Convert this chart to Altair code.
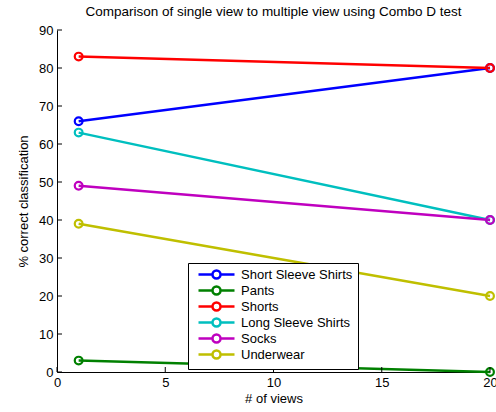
import altair as alt
import pandas as pd

series = ["Short Sleeve Shirts", "Pants", "Shorts", "Long Sleeve Shirts", "Socks", "Underwear"]
colors = ["#0000FF", "#008000", "#FF0000", "#00BFBF", "#BF00BF", "#BFBF00"]
views = [1, 20]
vals_1 = [66, 3, 83, 63, 49, 39]
vals_20 = [80, 0, 80, 40, 40, 20]
x_ticks = [0, 5, 10, 15, 20]
y_ticks = [0, 10, 20, 30, 40, 50, 60, 70, 80, 90]

rows = []
for i, s in enumerate(series):
    rows.append({"series": s, "order": i, "views": views[0], "value": vals_1[i]})
    rows.append({"series": s, "order": i, "views": views[1], "value": vals_20[i]})
df = pd.DataFrame(rows)

W, H = 433, 342
FONT = "Liberation Sans"
FS = 13

xs = alt.Scale(domain=[0, 20], nice=False)
ys = alt.Scale(domain=[0, 90], nice=False)

x_axis = alt.Axis(title="# of views", values=x_ticks, ticks=False,
                  labelPadding=4, titlePadding=3, grid=False,
                  domainColor="black", labelColor="black",
                  labelFlush=False, labelOverlap=False,
                  labelFont=FONT, labelFontSize=FS,
                  titleFont=FONT, titleFontSize=FS,
                  titleFontWeight="normal", titleColor="black")
y_axis = alt.Axis(title="% correct classification", values=y_ticks,
                  ticks=False, labelPadding=4, titlePadding=8, grid=False,
                  domainColor="black", labelColor="black",
                  labelFlush=False, labelOverlap=False,
                  labelFont=FONT, labelFontSize=FS,
                  titleFont=FONT, titleFontSize=FS,
                  titleFontWeight="normal", titleColor="black")

sym = "M-3.6,0H-0.8 M0.8,0H3.6 M0.8,0A0.8,0.8 0 1,1 -0.8,0A0.8,0.8 0 1,1 0.8,0"

color = alt.Color(
    "series:N",
    scale=alt.Scale(domain=series, range=colors),
    sort=series,
    legend=alt.Legend(
        title=None,
        orient="none",
        legendX=131,
        legendY=233,
        symbolType=sym,
        symbolSize=100,
        symbolStrokeWidth=2.5,
        symbolFillColor="transparent",
        labelFont=FONT,
        labelFontSize=FS,
        labelColor="black",
        rowPadding=-3,
        strokeColor="black",
        fillColor="white",
        padding=5,
        labelOffset=18,
        symbolOffset=17,
        labelLimit=300,
    ),
)

lines = alt.Chart(df).mark_line(strokeWidth=2.5, clip=False).encode(
    x=alt.X("views:Q", scale=xs, axis=x_axis, title="# of views"),
    y=alt.Y("value:Q", scale=ys, axis=y_axis, title="% correct classification"),
    color=color,
    detail="series:N",
    order="views:Q",
)

points = alt.Chart(df).mark_point(shape="circle", filled=False, size=60, strokeWidth=2.2, opacity=1, clip=False).encode(
    x=alt.X("views:Q", scale=xs, axis=x_axis, title="# of views"),
    y=alt.Y("value:Q", scale=ys, axis=y_axis, title="% correct classification"),
    color=alt.Color("series:N", scale=alt.Scale(domain=series, range=colors), legend=None),
)

xtick_df = pd.DataFrame({"views": x_ticks})
ytick_df = pd.DataFrame({"value": y_ticks})

yt = alt.Chart(ytick_df).mark_rule(color="black", strokeWidth=1).encode(
    y=alt.Y("value:Q", scale=ys, axis=y_axis, title="% correct classification"),
    x=alt.value(0), x2=alt.value(5)
)
xt = alt.Chart(xtick_df).mark_rule(color="black", strokeWidth=1).encode(
    x=alt.X("views:Q", scale=xs, axis=x_axis, title="# of views"),
    y=alt.value(H), y2=alt.value(H - 5)
)

chart = alt.layer(lines, points, xt, yt).properties(
    width=W,
    height=H,
    background="white",
    title=alt.TitleParams("Comparison of single view to multiple view using Combo D test",
                          font=FONT, fontSize=13.5, fontWeight="normal", color="black", offset=6),
    autosize=alt.AutoSizeParams(type="none"),
    padding={"left": 57, "top": 30, "right": 6, "bottom": 40},
).configure_view(stroke=None).configure_axis(domainWidth=1)

chart.save("out.html", embed_options={"renderer": "svg", "actions": False})
